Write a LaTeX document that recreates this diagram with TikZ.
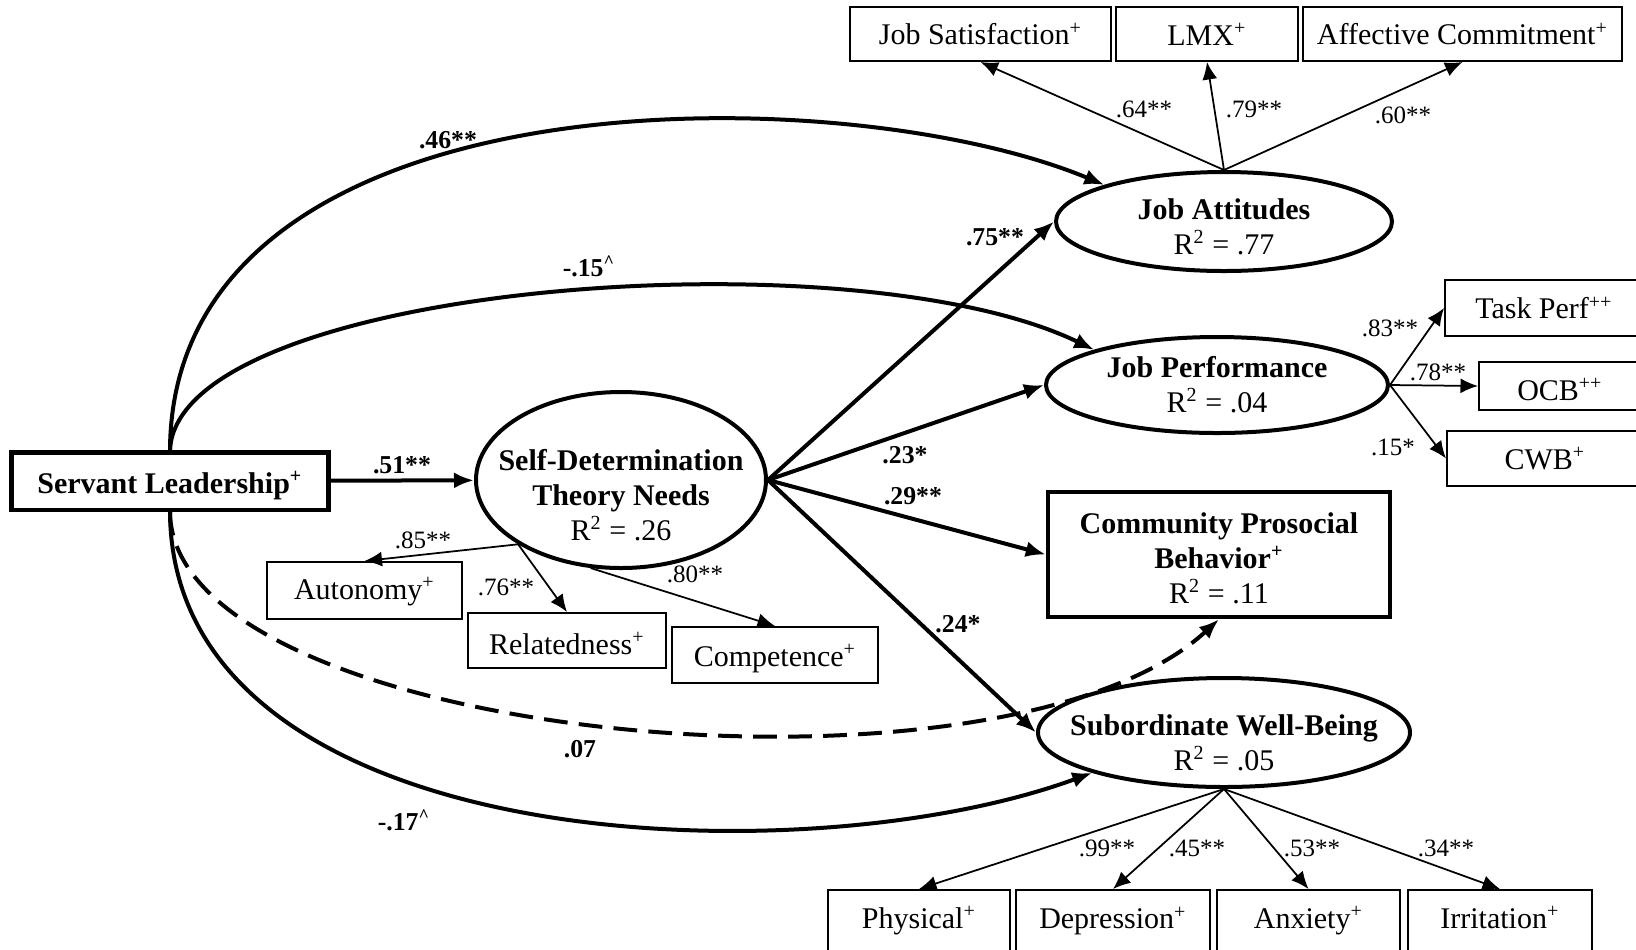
\documentclass[tikz,border=0pt]{standalone}
\usepackage{fontspec}
\setmainfont{Liberation Serif}
\usetikzlibrary{arrows.meta,shapes.geometric}

\begin{document}
\begin{tikzpicture}[x=0.4pt,y=-0.4pt,>={Latex[length=8pt,width=6.4pt]},
box/.style={draw,line width=.8pt,inner sep=1pt,font=\fontsize{12}{14}\selectfont},
thickbox/.style={draw,line width=1.8pt,align=center,inner sep=1pt,font=\fontsize{12}{14}\selectfont},
latent/.style={draw,ellipse,line width=1.6pt,inner sep=0pt},
latenttext/.style={align=center,inner sep=0pt,font=\fontsize{12}{14}\selectfont},
coef/.style={inner sep=0pt,font=\fontsize{10}{12}\selectfont},
bcoef/.style={inner sep=0pt,font=\fontsize{10.3}{12}\selectfont\bfseries},
effect/.style={->,line width=1.6pt},
loading/.style={-{Latex[length=7pt,width=6pt]},line width=.7pt}]
\path[use as bounding box,fill=white] (0,0) rectangle (1636,949);
\node[box,minimum width=104.4pt,minimum height=21.6pt] (js) at (980.5,34) {Job Satisfaction\textsuperscript{+}};
\node[box,minimum width=72.8pt,minimum height=21.6pt] (lmx) at (1207,34) {LMX\textsuperscript{+}};
\node[box,minimum width=127.6pt,minimum height=21.6pt] (ac) at (1462.5,34) {Affective Commitment\textsuperscript{+}};
\node[latent,minimum width=134.4pt,minimum height=39.6pt,label={[latenttext,name=jatext,yshift=-2pt]center:{\textbf{Job Attitudes}\\R\textsuperscript{2} = .77}}] (ja) at (1224,221.5) {};
\node[box,minimum width=79.2pt,minimum height=22.4pt] (tp) at (1544,308) {Task Perf\textsuperscript{++}};
\node[box,minimum width=64.8pt,minimum height=19.2pt,text height=12pt] (ocb) at (1560,386) {OCB\textsuperscript{++}};
\node[box,minimum width=78.4pt,minimum height=22pt] (cwb) at (1545,458.5) {CWB\textsuperscript{+}};
\node[latent,minimum width=136.8pt,minimum height=38.4pt,label={[latenttext,name=jptext]center:{\textbf{Job Performance}\\R\textsuperscript{2} = .04}}] (jp) at (1217,385) {};
\node[thickbox,minimum width=136.8pt,minimum height=50pt] (cpb) at (1219,554.5) {\rule{0pt}{11.5pt}\textbf{Community Prosocial}\\\textbf{Behavior\textsuperscript{+}}\\R\textsuperscript{2} = .11};
\node[latent,minimum width=148.8pt,minimum height=43.6pt,label={[latenttext,name=swbtext,yshift=-4pt]center:{\textbf{Subordinate Well-Being}\\R\textsuperscript{2} = .05}}] (swb) at (1224,732.5) {};
\node[box,minimum width=72.8pt,minimum height=24.8pt] (phy) at (919,921) {Physical\textsuperscript{+}};
\node[box,minimum width=77.8pt,minimum height=24.8pt] (dep) at (1113,921) {Depression\textsuperscript{+}};
\node[box,minimum width=73.2pt,minimum height=24.8pt] (anx) at (1308.5,921) {Anxiety\textsuperscript{+}};
\node[box,minimum width=73.6pt,minimum height=24.8pt,text depth=2.6pt] (irr) at (1500,921) {Irritation\textsuperscript{+}};
\node[thickbox,minimum width=126.6pt,minimum height=23pt,text height=12.4pt] (sl) at (170,481) {\textbf{Servant Leadership\textsuperscript{+}}};
\node[latent,minimum width=116pt,minimum height=70.4pt,label={[latenttext,name=sdttext,yshift=-6pt]center:{\textbf{Self-Determination}\\\textbf{Theory Needs}\\R\textsuperscript{2} = .26}}] (sdt) at (621,480) {};
\node[box,minimum width=78pt,minimum height=22.8pt,text height=10pt] (aut) at (364.5,590.5) {Autonomy\textsuperscript{+}};
\node[box,minimum width=79.2pt,minimum height=22pt,text height=11pt] (rel) at (567,640.5) {Relatedness\textsuperscript{+}};
\node[box,minimum width=82.4pt,minimum height=22.4pt,text height=11.5pt] (comp) at (775,655) {Competence\textsuperscript{+}};
\draw[loading] (ja.north) -- (js.south); \draw[loading] (ja.north) -- (lmx.south); \draw[loading] (ja.north) -- (ac.south);
\draw[loading] (jp.east) -- (tp.west); \draw[loading] (jp.east) -- (ocb.west); \draw[loading] (jp.east) -- (cwb.west);
\draw[loading] (swb.south) -- (phy.north); \draw[loading] (swb.south) -- (dep.north); \draw[loading] (swb.south) -- (anx.north); \draw[loading] (swb.south) -- (irr.north);
\draw[loading] (sdt.212) -- (aut.north); \draw[loading] (sdt.212) -- (rel.north); \draw[loading] (sdt.251) -- (comp.north);
\draw[effect] (sl) -- (sdt);
\draw[effect] (sdt.east) -- (ja.west); \draw[effect] (sdt.east) -- (jp.west); \draw[effect] (sdt.east) -- (cpb.west); \draw[effect] (sdt.east) -- (swb.west);
\draw[effect] (sl.north) .. controls (172,70) and (840,75) .. (ja.163);
\draw[effect] (sl.north) .. controls (178,285) and (850,232) .. (jp.164);
\draw[effect,dash pattern=on 9.5pt off 4.5pt] (sl.south) .. controls (172,740) and (1000,820) .. (cpb.south);
\draw[effect] (sl.south) .. controls (172,855) and (800,880) .. (swb.197);
\node[coef] (c64) at (1144,109) {.64**};
\node[coef] (c79) at (1254,109) {.79**};
\node[coef] (c60) at (1403,115) {.60**};
\node[coef] (c83) at (1390,328) {.83**};
\node[coef] (c78) at (1438,372) {.78**};
\node[coef] (c15) at (1393,447) {.15*};
\node[coef] (c85) at (423,540) {.85**};
\node[coef] (c76) at (506,587) {.76**};
\node[coef] (c80) at (695,574) {.80**};
\node[coef] (c99) at (1107,848) {.99**};
\node[coef] (c45) at (1197,848) {.45**};
\node[coef] (c53) at (1312,848) {.53**};
\node[coef] (c34) at (1446,848) {.34**};
\node[bcoef] (b46) at (448,140) {.46**};
\node[bcoef] (b15) at (589,266) {-.15\textsuperscript{\textasciicircum}};
\node[bcoef] (b51) at (402,465) {.51**};
\node[bcoef] (b75) at (995,237) {.75**};
\node[bcoef] (b23) at (905,455) {.23*};
\node[bcoef] (b29) at (913,496) {.29**};
\node[bcoef] (b24) at (958,624) {.24*};
\node[bcoef] (b07) at (580,749) {.07};
\node[bcoef] (b17) at (404,820) {-.17\textsuperscript{\textasciicircum}};
\end{tikzpicture}
\end{document}
